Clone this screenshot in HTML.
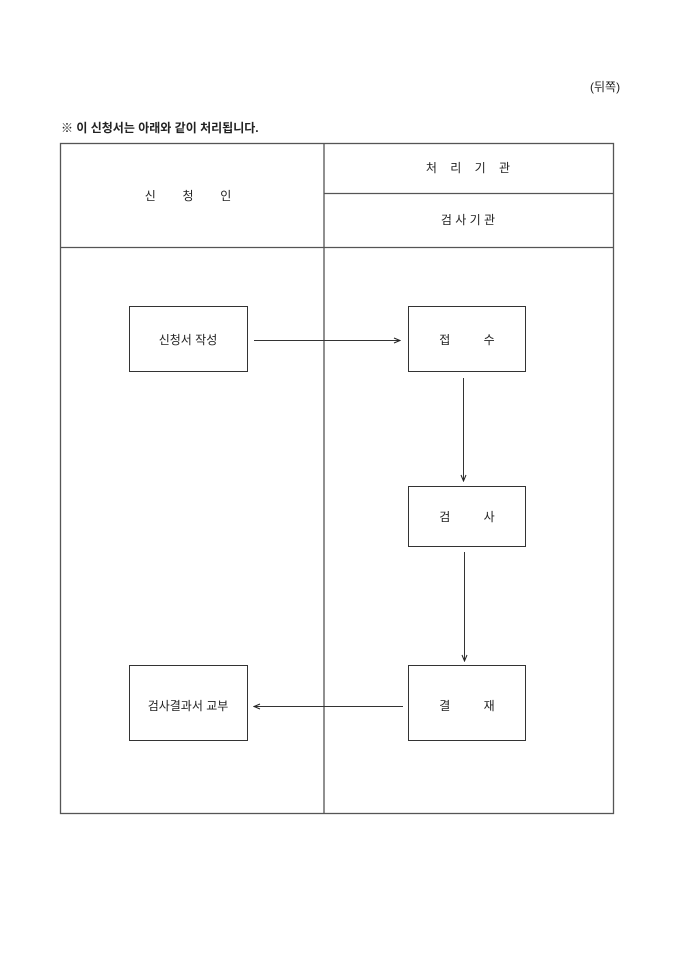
<!DOCTYPE html>
<html><head><meta charset="utf-8"><style>
html,body{margin:0;padding:0;background:#fff;}
svg{display:block;}
text{font-family:"Liberation Sans","Noto Sans CJK KR",sans-serif;fill:#222;font-size:12px;}
</style></head><body>
<svg width="680" height="962" viewBox="0 0 680 962" xmlns="http://www.w3.org/2000/svg">
<defs>
<marker id="a" markerWidth="8" markerHeight="8" refX="7" refY="4" orient="auto" markerUnits="userSpaceOnUse">
<path d="M1,1.5 L7,4 L1,6.5" fill="none" stroke="#222" stroke-width="1"/>
</marker>
</defs>
<text x="590" y="91" font-size="11.5">(뒤쪽)</text>
<text x="61" y="132" font-size="12.5" font-weight="bold">※ 이 신청서는 아래와 같이 처리됩니다.</text>
<g stroke="#555" stroke-width="1.3" fill="none">
<rect x="60.5" y="143.5" width="553" height="670"/>
<line x1="324" y1="143.5" x2="324" y2="813.5"/>
<line x1="324" y1="193.5" x2="613.5" y2="193.5"/>
<line x1="60.5" y1="247.5" x2="613.5" y2="247.5"/>
</g>
<text x="188" y="200" text-anchor="middle" xml:space="preserve">신        청        인</text>
<text x="468" y="172" text-anchor="middle" xml:space="preserve">처    리    기    관</text>
<text x="468" y="224" text-anchor="middle" xml:space="preserve">검 사 기 관</text>
<g stroke="#333" stroke-width="1" fill="none">
<rect x="129.5" y="306.5" width="118" height="65"/>
<rect x="408.5" y="306.5" width="117" height="65"/>
<rect x="408.5" y="486.5" width="117" height="60"/>
<rect x="408.5" y="665.5" width="117" height="75"/>
<rect x="129.5" y="665.5" width="118" height="75"/>
<line x1="254" y1="340.5" x2="400" y2="340.5" marker-end="url(#a)"/>
<line x1="463.5" y1="378" x2="463.5" y2="481" marker-end="url(#a)"/>
<line x1="464.5" y1="552" x2="464.5" y2="661" marker-end="url(#a)"/>
<line x1="403" y1="706.5" x2="254" y2="706.5" marker-end="url(#a)"/>
</g>
<text x="188" y="344" text-anchor="middle">신청서 작성</text>
<text x="467" y="344" text-anchor="middle" xml:space="preserve">접          수</text>
<text x="467" y="521" text-anchor="middle" xml:space="preserve">검          사</text>
<text x="467" y="710" text-anchor="middle" xml:space="preserve">결          재</text>
<text x="188" y="710" text-anchor="middle">검사결과서 교부</text>
</svg>
</body></html>
